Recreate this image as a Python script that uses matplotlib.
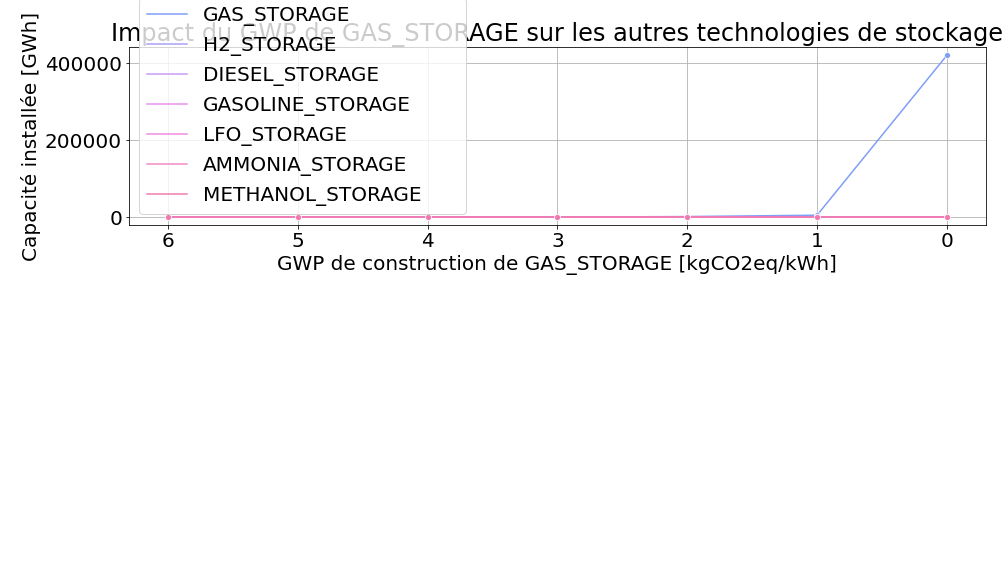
"""
Impact of the GAS_STORAGE construction GWP on the installed capacity
of the other storage technologies.
"""
import matplotlib

matplotlib.use("Agg")
import matplotlib.pyplot as plt
from matplotlib.lines import Line2D

gwp = [6, 5, 4, 3, 2, 1, 0]

technologies = [
    "GAS_STORAGE",
    "H2_STORAGE",
    "DIESEL_STORAGE",
    "GASOLINE_STORAGE",
    "LFO_STORAGE",
    "AMMONIA_STORAGE",
    "METHANOL_STORAGE",
]

gas_storage = [0, 0, 0, 0, 1500, 5000, 420000]
h2_storage = [0, 0, 0, 0, 0, 0, 0]
diesel_storage = [0, 0, 0, 0, 0, 0, 0]
gasoline_storage = [0, 0, 0, 0, 0, 0, 0]
lfo_storage = [0, 0, 0, 0, 0, 0, 0]
ammonia_storage = [0, 0, 0, 0, 0, 0, 0]
methanol_storage = [0, 0, 0, 0, 0, 0, 0]

capacities = [
    gas_storage,
    h2_storage,
    diesel_storage,
    gasoline_storage,
    lfo_storage,
    ammonia_storage,
    methanol_storage,
]

colors = ["#7f9ef5", "#a89ff5", "#c99bf3", "#e98ff0", "#f08ae0", "#f189c8", "#f07aae"]

# 14 x 8 inches at 72 dpi -> 1008 x 576 px
fig = plt.figure(figsize=(14, 8), dpi=72)
ax = fig.add_axes([0.128, 0.609, 0.850, 0.309])

handles = []
for name, values, color in zip(technologies, capacities, colors):
    ax.plot(gwp, values, color=color, lw=1.5, marker="o", ms=6,
            mec="white", mew=0.75, zorder=3)
    handles.append(Line2D([], [], color=color, lw=1.5, label=name))

ax.invert_xaxis()
ax.grid(True, color="#b0b0b0", lw=0.8)
ax.set_axisbelow(True)
ax.tick_params(labelsize=20)
ax.set_xlabel("GWP de construction de GAS_STORAGE [kgCO2eq/kWh]", fontsize=20)
ax.set_ylabel("Capacité installée [GWh]", fontsize=20)
ax.set_title("Impact du GWP de GAS_STORAGE sur les autres technologies de stockage",
             fontsize=24)

# wider frame than the labels need, as in the original
ax.legend(handles=handles, loc="lower left", mode="expand",
          bbox_to_anchor=(0.0117, 0.062, 0.3816, 0.5),
          borderaxespad=0, fontsize=20)

fig.savefig("out.png", dpi=72)
